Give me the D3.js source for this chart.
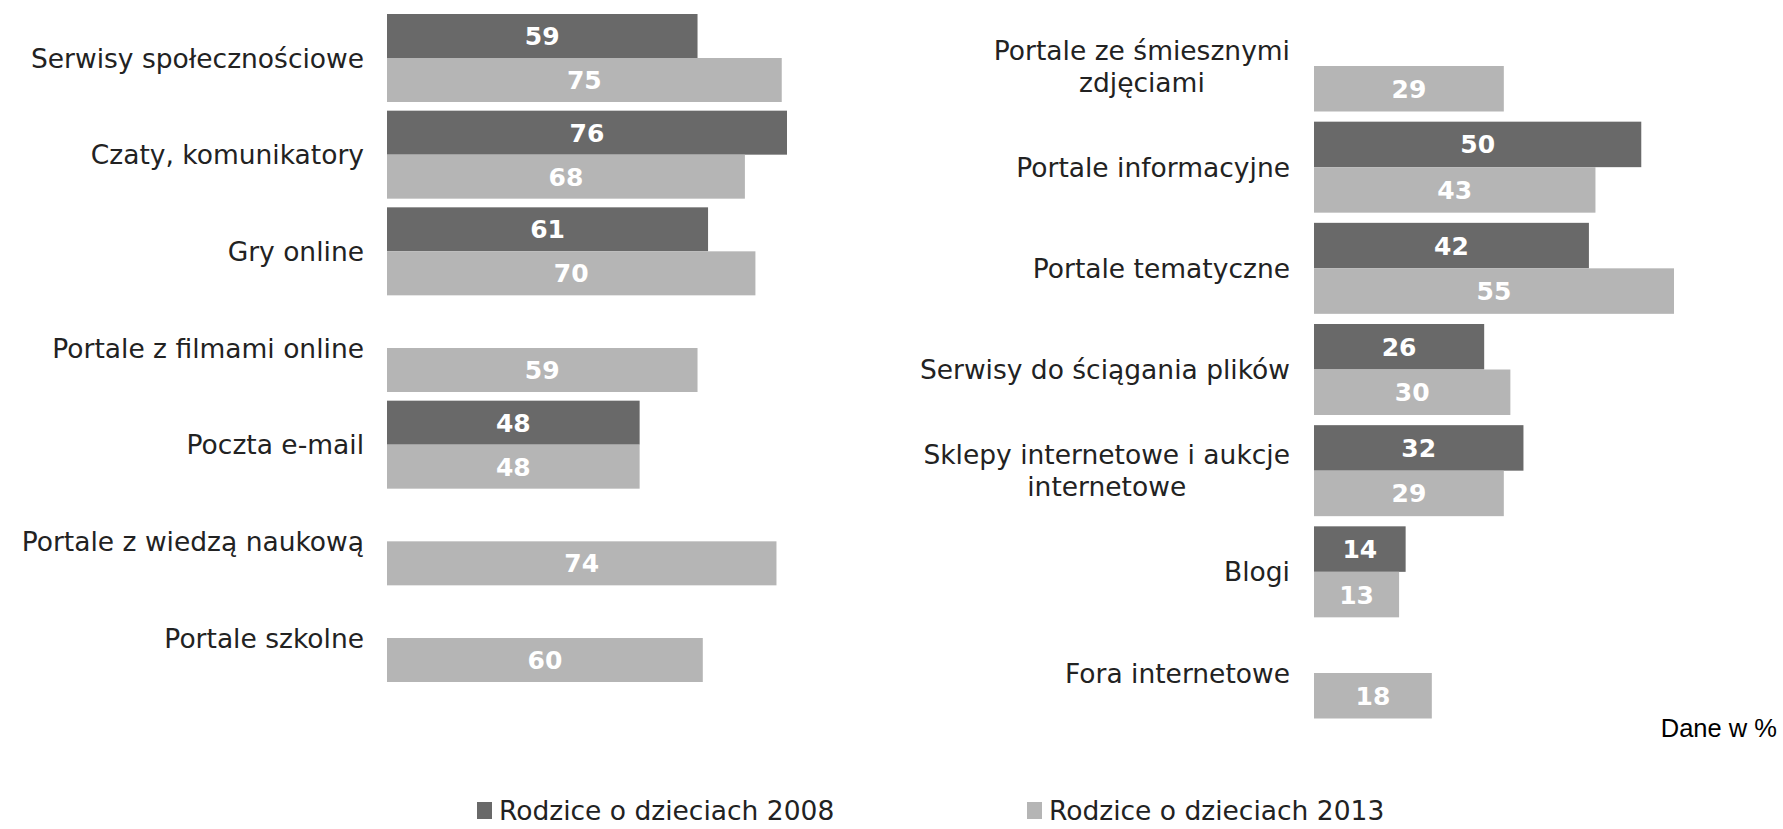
<!DOCTYPE html>
<html>
<head>
<meta charset="utf-8">
<script src="https://d3js.org/d3.v7.min.js"></script>
<style>
  body { margin: 0; background: #fff; }
  svg { display: block; }
</style>
</head>
<body>
<svg id="chart"></svg>
<script>
const leftCats = ["Serwisy społecznościowe", "Czaty, komunikatory", "Gry online", "Portale z filmami online",
                  "Poczta e-mail", "Portale z wiedzą naukową", "Portale szkolne"];
const left2008 = [59, 76, 61, null, 48, null, null];
const left2013 = [75, 68, 70, 59, 48, 74, 60];

const rightCats = ["Portale ze śmiesznymi\nzdjęciami", "Portale informacyjne", "Portale tematyczne",
                   "Serwisy do ściągania plików", "Sklepy internetowe i aukcje\ninternetowe", "Blogi", "Fora internetowe"];
const right2008 = [null, 50, 42, 26, 32, 14, null];
const right2013 = [29, 43, 55, 30, 29, 13, 18];

const seriesNames = ["Rodzice o dzieciach 2008", "Rodzice o dzieciach 2013"];
const colors = ["#696969", "#b5b5b5"];

const width = 1783, height = 829;
const LABEL_FONT = "'DejaVu Sans', Verdana, sans-serif";
const LABEL_SIZE = "26.5px";

const svg = d3.select("#chart")
  .attr("width", width)
  .attr("height", height);

function drawPanel(cats, v2008, v2013, opts) {
  const x = d3.scaleLinear().domain(opts.domain).range([opts.x0, opts.x1]);
  const y = d3.scalePoint().domain(cats).range([opts.y0, opts.y1]);
  const h = opts.barH;

  const g = svg.append("g");

  const rows = cats.map((c, i) => ({ cat: c, a: v2008[i], b: v2013[i] }));

  const bars = [];
  rows.forEach(r => {
    if (r.a != null) bars.push({ cat: r.cat, v: r.a, s: 0 });
    if (r.b != null) bars.push({ cat: r.cat, v: r.b, s: 1 });
  });

  g.selectAll("rect.bar")
    .data(bars)
    .enter().append("rect")
    .attr("class", "bar")
    .attr("x", x(0))
    .attr("y", d => d.s === 0 ? y(d.cat) - h : y(d.cat))
    .attr("width", d => x(d.v) - x(0))
    .attr("height", h)
    .attr("fill", d => colors[d.s]);

  g.selectAll("text.val")
    .data(bars)
    .enter().append("text")
    .attr("class", "val")
    .attr("x", d => (x(0) + x(d.v)) / 2)
    .attr("y", d => (d.s === 0 ? y(d.cat) - h / 2 : y(d.cat) + h / 2))
    .attr("dy", "0.36em")
    .attr("text-anchor", "middle")
    .attr("fill", "#fff")
    .style("font-family", LABEL_FONT)
    .style("font-weight", "bold")
    .style("font-size", "25px")
    .text(d => d.v);

  // category labels, multi-line ones are centred as a block
  cats.forEach(c => {
    const lines = c.split("\n");
    const t = g.append("text")
      .attr("fill", "#222")
      .style("font-family", LABEL_FONT)
      .style("font-size", LABEL_SIZE);
    const lh = 32;
    lines.forEach((ln, i) => {
      t.append("tspan")
        .attr("y", y(c) + (i - (lines.length - 1) / 2) * lh)
        .attr("dy", "0.36em")
        .text(ln);
    });
    if (lines.length === 1) {
      t.attr("text-anchor", "end").selectAll("tspan").attr("x", opts.labelRight);
    } else {
      let maxW = 0;
      t.selectAll("tspan").each(function() { maxW = Math.max(maxW, this.getComputedTextLength()); });
      t.attr("text-anchor", "middle").selectAll("tspan").attr("x", opts.labelRight - maxW / 2);
    }
  });
}

drawPanel(leftCats, left2008, left2013, {
  domain: [0, 76], x0: 387, x1: 787,
  y0: 58, y1: 638, barH: 44,
  labelRight: 364
});

drawPanel(rightCats, right2008, right2013, {
  domain: [0, 55], x0: 1314, x1: 1674,
  y0: 66, y1: 673, barH: 45.5,
  labelRight: 1290
});

svg.append("text")
  .attr("x", 1777)
  .attr("y", 728)
  .attr("dy", "0.36em")
  .attr("text-anchor", "end")
  .attr("fill", "#000")
  .style("font-family", "'Liberation Sans', Arial, sans-serif")
  .style("font-size", "25.5px")
  .text("Dane w %");

// legend
const legendX = [477, 1027];
const legend = svg.append("g")
  .selectAll("g")
  .data(seriesNames)
  .enter().append("g")
  .attr("transform", (d, i) => `translate(${legendX[i]},810)`);

legend.append("rect")
  .attr("x", 0)
  .attr("y", -8)
  .attr("width", 15)
  .attr("height", 17)
  .attr("fill", (d, i) => colors[i]);

legend.append("text")
  .attr("x", 22)
  .attr("y", 0)
  .attr("dy", "0.36em")
  .attr("fill", "#222")
  .style("font-family", LABEL_FONT)
  .style("font-size", LABEL_SIZE)
  .text(d => d);
</script>
</body>
</html>
